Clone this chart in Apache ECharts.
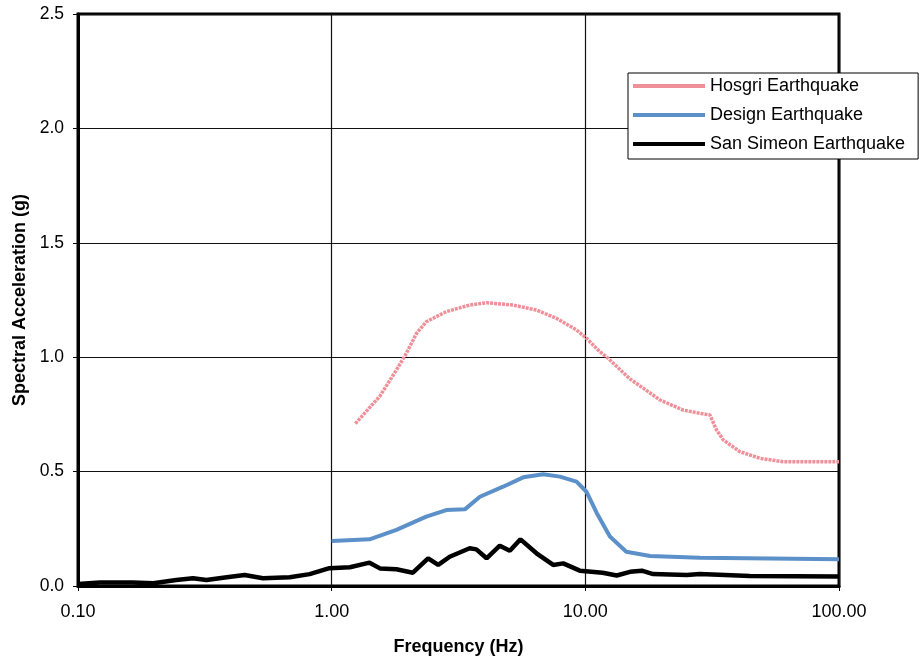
<!DOCTYPE html>
<html>
<head>
<meta charset="utf-8">
<title>Spectral Acceleration</title>
<script src="https://cdn.jsdelivr.net/npm/echarts@6/dist/echarts.min.js"></script>
<style>
  html, body { margin: 0; padding: 0; background: #fff; }
  #chart { width: 921px; height: 662px; }
</style>
</head>
<body>
<div id="chart"></div>
<script>
// Response spectra: frequency (Hz) vs spectral acceleration (g)
const hosgriFreq = [1.24, 1.55, 1.80, 1.97, 2.16, 2.36, 2.83, 3.50, 4.08, 5.19, 6.42, 7.69, 9.23, 10.1, 11.4, 12.1, 15.0, 19.7, 24.3, 28.3, 31.0, 32.9, 35.0, 40.7, 48.8, 60.3, 100];
const hosgriAccel = [0.71, 0.83, 0.944, 1.017, 1.104, 1.155, 1.199, 1.228, 1.238, 1.228, 1.206, 1.17, 1.119, 1.083, 1.024, 1.002, 0.905, 0.813, 0.769, 0.755, 0.747, 0.682, 0.638, 0.587, 0.558, 0.543, 0.543];

const designFreq = [1.0, 1.41, 1.80, 2.36, 2.83, 3.35, 3.84, 4.74, 5.69, 6.82, 7.93, 9.23, 10.1, 11.1, 12.5, 14.5, 18.0, 28.3, 100];
const designAccel = [0.197, 0.204, 0.245, 0.303, 0.332, 0.335, 0.39, 0.434, 0.475, 0.488, 0.478, 0.456, 0.412, 0.318, 0.216, 0.15, 0.131, 0.124, 0.117];

const simeonFreq = [0.1, 0.122, 0.164, 0.198, 0.244, 0.284, 0.321, 0.386, 0.454, 0.536, 0.683, 0.819, 0.98, 1.18, 1.41, 1.55, 1.80, 2.09, 2.40, 2.63, 2.92, 3.50, 3.72, 4.08, 4.60, 5.04, 5.55, 6.42, 7.47, 8.18, 9.51, 11.7, 13.3, 15.0, 16.7, 18.5, 25.1, 28.3, 44.5, 100];
const simeonAccel = [0.009, 0.015, 0.015, 0.012, 0.026, 0.034, 0.026, 0.038, 0.048, 0.034, 0.038, 0.052, 0.078, 0.082, 0.102, 0.077, 0.073, 0.058, 0.121, 0.092, 0.128, 0.165, 0.160, 0.121, 0.176, 0.154, 0.204, 0.143, 0.092, 0.099, 0.067, 0.058, 0.046, 0.062, 0.067, 0.052, 0.048, 0.052, 0.044, 0.041];

const seriesNames = ['Hosgri Earthquake', 'Design Earthquake', 'San Simeon Earthquake'];

function pairs(xs, ys) { return xs.map((x, i) => [x, ys[i]]); }

const FONT = '"Liberation Sans", Arial, sans-serif';
const chart = echarts.init(document.getElementById('chart'), null, { renderer: 'canvas' });

chart.setOption({
  backgroundColor: '#fff',
  animation: false,
  grid: {
    left: 78, right: 82, top: 14, bottom: 76,
    show: true, borderColor: '#000', borderWidth: 3, backgroundColor: 'transparent'
  },
  legend: {
    orient: 'vertical',
    left: 628, top: 73,
    padding: [4, 13, 6, 5],
    itemGap: 11,
    itemWidth: 72, itemHeight: 4,
    backgroundColor: '#fff',
    borderColor: '#000', borderWidth: 1,
    textStyle: { fontFamily: FONT, fontSize: 18, color: '#000' },
    data: [
      { name: seriesNames[0], icon: 'rect' },
      { name: seriesNames[1], icon: 'rect' },
      { name: seriesNames[2], icon: 'rect' }
    ]
  },
  xAxis: {
    type: 'log', logBase: 10, min: 0.1, max: 100,
    name: 'Frequency (Hz)', nameLocation: 'middle', nameGap: 52,
    nameTextStyle: { fontFamily: FONT, fontSize: 18, fontWeight: 'bold', color: '#000' },
    axisLine: { show: true, onZero: false, lineStyle: { color: '#000', width: 3 } },
    axisTick: { show: true, length: 5, lineStyle: { color: '#000', width: 1 } },
    axisLabel: {
      fontFamily: FONT, fontSize: 18, color: '#000', margin: 17,
      formatter: v => Number(v).toFixed(2)
    },
    splitLine: { show: true, lineStyle: { color: '#111', width: 1.2 } },
    minorTick: { show: false }
  },
  yAxis: {
    type: 'value', min: 0, max: 2.5, interval: 0.5,
    name: 'Spectral Acceleration (g)', nameLocation: 'middle', nameGap: 49,
    nameTextStyle: { fontFamily: FONT, fontSize: 18, fontWeight: 'bold', color: '#000' },
    axisLine: { show: true, lineStyle: { color: '#000', width: 3 } },
    axisTick: { show: true, length: 5, lineStyle: { color: '#000', width: 1 } },
    axisLabel: {
      fontFamily: FONT, fontSize: 17.5, color: '#000', margin: 14,
      formatter: v => v.toFixed(1)
    },
    splitLine: { show: true, lineStyle: { color: '#111', width: 1.2 } }
  },
  series: [
    {
      name: seriesNames[0], type: 'line', data: pairs(hosgriFreq, hosgriAccel),
      showSymbol: false, symbol: 'none', smooth: false,
      color: '#ef8f99',
      lineStyle: { color: '#ef8f99', width: 3.5, type: [3, 1] },
      z: 3
    },
    {
      name: seriesNames[1], type: 'line', data: pairs(designFreq, designAccel),
      showSymbol: false, symbol: 'none',
      color: '#5b90c9',
      lineStyle: { color: '#5b90c9', width: 4 },
      z: 3
    },
    {
      name: seriesNames[2], type: 'line', data: pairs(simeonFreq, simeonAccel),
      showSymbol: false, symbol: 'none',
      color: '#000',
      lineStyle: { color: '#000', width: 4.5 },
      z: 4
    }
  ]
});
</script>
</body>
</html>
